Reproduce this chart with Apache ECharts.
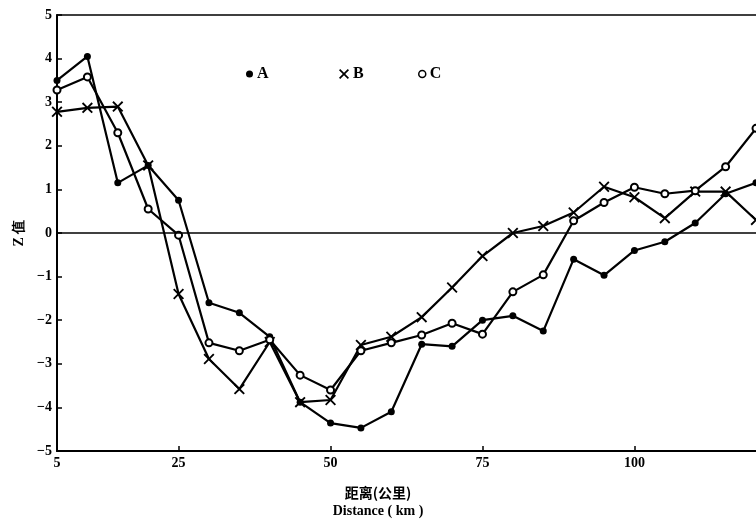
<!DOCTYPE html>
<html>
<head>
<meta charset="utf-8">
<script src="https://cdn.jsdelivr.net/npm/echarts@6/dist/echarts.min.js"></script>
<style>html,body{margin:0;padding:0;background:#fff}#c{width:756px;height:524px}</style>
</head>
<body>
<div id="c"></div>
<script>
const distances = [5,10,15,20,25,30,35,40,45,50,55,60,65,70,75,80,85,90,95,100,105,110,115,120];
const seriesA = [3.5,4.05,1.15,1.55,0.75,-1.6,-1.83,-2.38,-3.88,-4.36,-4.47,-4.1,-2.55,-2.6,-2.0,-1.9,-2.25,-0.6,-0.97,-0.4,-0.2,0.23,0.9,1.15];
const seriesB = [2.78,2.87,2.9,1.55,-1.4,-2.89,-3.58,-2.5,-3.88,-3.83,-2.57,-2.38,-1.93,-1.25,-0.53,0.0,0.16,0.47,1.06,0.82,0.34,0.95,0.95,0.3];
const seriesC = [3.28,3.58,2.3,0.55,-0.05,-2.52,-2.7,-2.45,-3.26,-3.6,-2.7,-2.52,-2.34,-2.07,-2.32,-1.35,-0.96,0.28,0.7,1.05,0.9,0.97,1.52,2.4];
const xTicks = [5,25,50,75,100];
const seriesNames = ['A','B','C'];

const FONT = '"Liberation Serif", "DejaVu Serif", serif';
const CROSS = 'path://M0,1.2L1.2,0L5,3.8L8.8,0L10,1.2L6.2,5L10,8.8L8.8,10L5,6.2L1.2,10L0,8.8L3.8,5Z';

function pairs(vals){ return distances.map((d,i)=>[d, vals[i]]); }

const chart = echarts.init(document.getElementById('c'), null, {renderer:'canvas'});
const lineStyle = {color:'#000', width:2.2};
const legendText = {color:'#000', fontFamily:FONT, fontSize:16, fontWeight:'bold', padding:[0,0,0,-1]};
chart.setOption({
  animation:false,
  backgroundColor:'#fff',
  grid:{left:57, right:0, top:15, bottom:73},
  xAxis:[{
    type:'value', min:5, max:120,
    axisLine:{show:true, onZero:false, lineStyle:{color:'#000', width:2}},
    axisTick:{show:true, inside:true, length:5, customValues:xTicks, lineStyle:{color:'#000', width:1.5}},
    axisLabel:{customValues:xTicks, color:'#000', fontFamily:FONT, fontSize:14, fontWeight:'bold', margin:5},
    splitLine:{show:false}
  },{
    type:'value', min:5, max:120, position:'top',
    axisLine:{show:true, onZero:false, lineStyle:{color:'#000', width:1.5}},
    axisTick:{show:false}, axisLabel:{show:false}, splitLine:{show:false}
  }],
  yAxis:{
    type:'value', min:-5, max:5, interval:1,
    name:'Z 值', nameLocation:'middle', nameGap:31,
    nameTextStyle:{color:'#000', fontFamily:FONT, fontSize:14, fontWeight:'bold'},
    axisLine:{show:true, onZero:false, lineStyle:{color:'#000', width:2}},
    axisTick:{show:true, inside:true, length:5, lineStyle:{color:'#000', width:1.5}},
    axisLabel:{color:'#000', fontFamily:FONT, fontSize:14, fontWeight:'bold', margin:5,
      formatter:v=>String(v).replace('-','−')},
    splitLine:{show:false}
  },
  legend:[
    {left:241, top:61, icon:'circle', itemWidth:7, itemHeight:7,
     textStyle:legendText, data:[{name:'A', itemStyle:{color:'#000'}}]},
    {left:334, top:61, icon:CROSS, itemWidth:10, itemHeight:10,
     textStyle:legendText, data:[{name:'B', itemStyle:{color:'#000'}}]},
    {left:413, top:61, icon:'circle', itemWidth:7, itemHeight:7,
     textStyle:legendText, data:[{name:'C', itemStyle:{color:'#fff', borderColor:'#000', borderWidth:1.5}}]}
  ],
  series:[
    {name:seriesNames[0], type:'line', data:pairs(seriesA), symbol:'circle', symbolSize:7,
     itemStyle:{color:'#000'}, lineStyle:lineStyle, z:3,
     markLine:{silent:true, symbol:'none', label:{show:false},
       lineStyle:{color:'#000', width:1.5, type:'solid'}, data:[{yAxis:0}]}},
    {name:seriesNames[1], type:'line', data:pairs(seriesB), symbol:CROSS, symbolSize:11,
     itemStyle:{color:'#000'}, lineStyle:lineStyle, z:3},
    {name:seriesNames[2], type:'line', data:pairs(seriesC), symbol:'emptyCircle', symbolSize:7,
     itemStyle:{color:'#000', borderColor:'#000', borderWidth:1.5}, lineStyle:lineStyle, z:4}
  ],
  graphic:[
    {type:'text', left:'center', top:486, style:{text:'距离(公里)', fill:'#000',
      font:'bold 14px "Noto Sans CJK SC", sans-serif'}, x:-18},
    {type:'text', top:504, left:'center', style:{text:'Distance ( km )', fill:'#000',
      font:'bold 14px ' + FONT}, x:-18}
  ]
});
</script>
</body>
</html>
